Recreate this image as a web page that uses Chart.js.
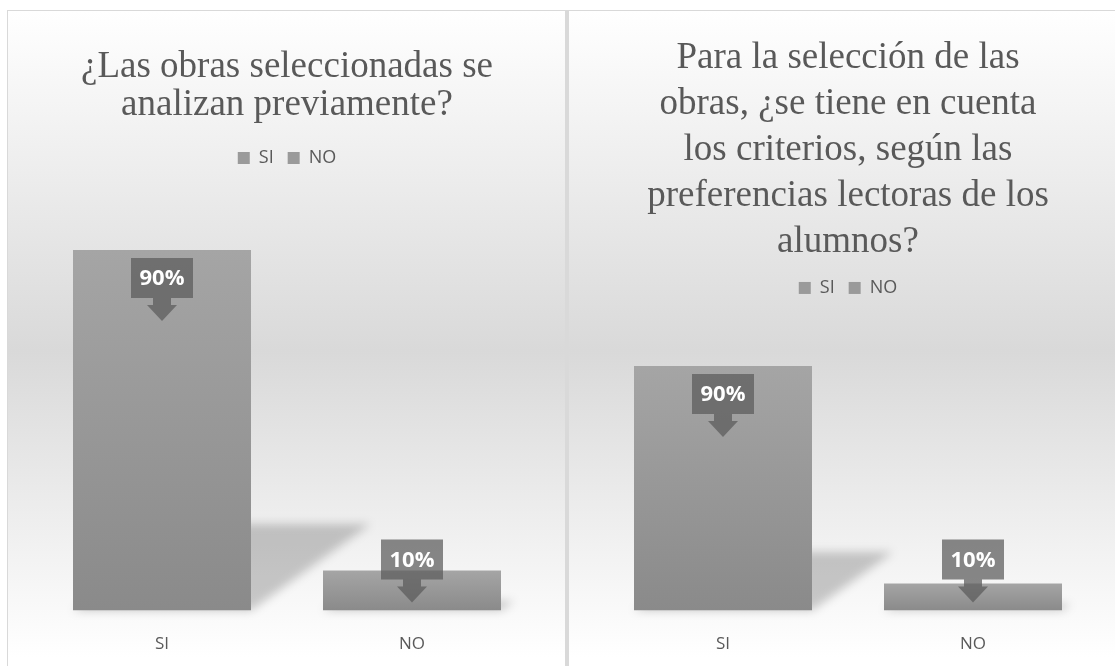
<!DOCTYPE html>
<html>
<head>
<meta charset="utf-8">
<script src="https://cdn.jsdelivr.net/npm/chart.js@4.4.1/dist/chart.umd.min.js"></script>
<style>
    html, body { margin: 0; padding: 0; background: #fff; }
    body { width: 1115px; height: 666px; overflow: hidden; position: relative; }
    .line { position: absolute; background: #d9d9d9; }
    .panel {
        position: absolute; top: 11px; width: 557px; height: 680px;
        background: linear-gradient(to bottom, #ffffff 0%, #d9d9d9 50%, #ffffff 95%);
    }
</style>
</head>
<body>
<div class="line" style="left:7px; top:10px; width:1108px; height:1px;"></div>
<div class="line" style="left:7px; top:10px; width:1px; height:656px;"></div>
<div class="line" style="left:565px; top:10px; width:4px; height:656px;"></div>
<div class="panel" style="left:8px;"><canvas id="chartAnaliza" width="557" height="680"></canvas></div>
<div class="panel" style="left:569px;"><canvas id="chartCriterios" width="557" height="680"></canvas></div>

<script>
// datos
const categories = ['SI', 'NO'];
const analizanValues = [0.9, 0.1];
const criteriosValues = [0.9, 0.1];
const titleAnaliza = ['¿Las obras seleccionadas se', 'analizan previamente?'];
const titleCriterios = ['Para la selección de las', 'obras, ¿se tiene en cuenta', 'los criterios, según las', 'preferencias lectoras de los', 'alumnos?'];

const textColor = '#595959';

// sombra en perspectiva detrás de cada barra
const barShadow = {
    id: 'barShadow',
    beforeDatasetsDraw(chart) {
        const ctx = chart.ctx;
        const meta = chart.getDatasetMeta(0);
        ctx.save();
        ctx.filter = 'blur(5px)';
        ctx.fillStyle = 'rgba(0,0,0,0.2)';
        meta.data.forEach(bar => {
            const x0 = bar.x - bar.width / 2;
            const x1 = bar.x + bar.width / 2;
            const hs = (bar.base - bar.y) * 0.24;
            const shift = hs * 1.38;
            ctx.beginPath();
            ctx.moveTo(x0, bar.base);
            ctx.lineTo(x1, bar.base);
            ctx.lineTo(x1 + shift, bar.base - hs);
            ctx.lineTo(x0 + shift, bar.base - hs);
            ctx.closePath();
            ctx.fill();
        });
        ctx.restore();
    }
};

// etiquetas tipo llamada con flecha
const calloutLabels = {
    id: 'calloutLabels',
    afterDatasetsDraw(chart) {
        const ctx = chart.ctx;
        const meta = chart.getDatasetMeta(0);
        const values = chart.data.datasets[0].data;
        ctx.save();
        meta.data.forEach((bar, i) => {
            const tip = Math.min(bar.y + 71, bar.base - 8);
            const cx = bar.x;
            ctx.fillStyle = 'rgba(90,90,90,0.72)';
            ctx.beginPath();
            ctx.moveTo(cx - 31, tip - 63);
            ctx.lineTo(cx + 31, tip - 63);
            ctx.lineTo(cx + 31, tip - 23);
            ctx.lineTo(cx + 9, tip - 23);
            ctx.lineTo(cx + 9, tip - 16);
            ctx.lineTo(cx + 15, tip - 16);
            ctx.lineTo(cx, tip);
            ctx.lineTo(cx - 15, tip - 16);
            ctx.lineTo(cx - 9, tip - 16);
            ctx.lineTo(cx - 9, tip - 23);
            ctx.lineTo(cx - 31, tip - 23);
            ctx.closePath();
            ctx.fill();
            ctx.fillStyle = '#ffffff';
            ctx.font = 'bold 22px "Open Sans"';
            ctx.textAlign = 'center';
            ctx.textBaseline = 'middle';
            ctx.fillText(Math.round(values[i] * 100) + '%', cx, tip - 42);
        });
        ctx.restore();
    }
};

function barGradient(context) {
    const chart = context.chart;
    if (!chart.chartArea) return '#999999';
    const y = chart.scales.y;
    const top = y.getPixelForValue(context.dataset.data[context.dataIndex]);
    const base = y.getPixelForValue(0);
    const g = chart.ctx.createLinearGradient(0, top, 0, base);
    g.addColorStop(0, '#a5a5a5');
    g.addColorStop(1, '#8a8a8a');
    return g;
}

function makeChart(id, title, values, opts) {
    return new Chart(document.getElementById(id), {
        type: 'bar',
        data: {
            labels: categories,
            datasets: [{
                data: values,
                backgroundColor: barGradient,
                borderWidth: 0,
                barPercentage: 1,
                categoryPercentage: 0.712
            }]
        },
        options: {
            responsive: false,
            animation: false,
            devicePixelRatio: 1,
            layout: { padding: { left: 29, right: 28, top: 0, bottom: 22 } },
            scales: {
                x: {
                    grid: { display: false },
                    border: { display: false },
                    ticks: { color: textColor, padding: 15, font: { family: 'Open Sans', size: 17 } }
                },
                y: { display: false, min: 0, max: 1 }
            },
            plugins: {
                title: {
                    display: true,
                    text: title,
                    color: textColor,
                    font: { family: 'Liberation Serif', size: 37, weight: 'normal', lineHeight: opts.lineHeight },
                    padding: { top: opts.titleTop, bottom: opts.titleBottom }
                },
                legend: {
                    display: true,
                    position: 'top',
                    labels: {
                        color: textColor,
                        boxWidth: 12,
                        boxHeight: 12,
                        padding: 14,
                        font: { family: 'Open Sans', size: 18 },
                        generateLabels: chart => chart.data.labels.map((l, i) => ({
                            text: l,
                            fillStyle: '#9a9a9a',
                            strokeStyle: '#9a9a9a',
                            lineWidth: 0,
                            fontColor: textColor,
                            hidden: false,
                            index: i
                        }))
                    }
                },
                // espacio entre la leyenda y el área del gráfico
                subtitle: {
                    display: true,
                    text: '',
                    weight: 500,
                    font: { size: 1, lineHeight: 1 },
                    padding: { top: opts.gap, bottom: 0 }
                },
                tooltip: { enabled: false }
            }
        },
        plugins: [barShadow, calloutLabels]
    });
}

makeChart('chartAnaliza', titleAnaliza, analizanValues, {
    lineHeight: 1.027, titleTop: 37, titleBottom: 11, gap: 32
});
makeChart('chartCriterios', titleCriterios, criteriosValues, {
    lineHeight: 1.243, titleTop: 24, titleBottom: 0, gap: 31
});
</script>
</body>
</html>
